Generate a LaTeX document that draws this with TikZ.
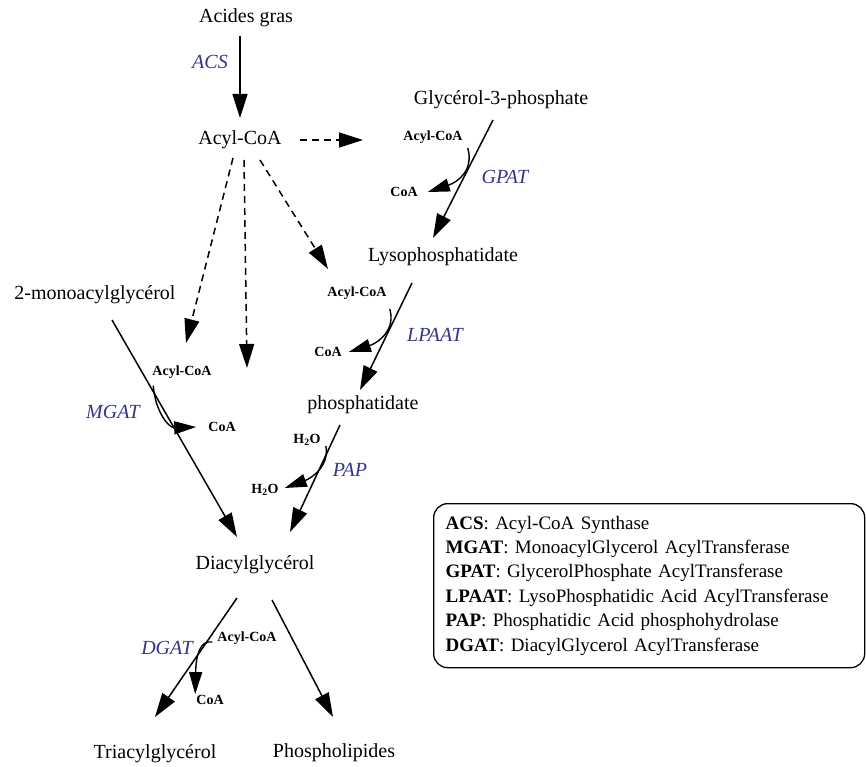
\documentclass[tikz,border=0pt]{standalone}
\usepackage{fontspec}
\setmainfont{Liberation Serif}
\usepackage{tikz}
\usetikzlibrary{arrows.meta, positioning}
\definecolor{enzblue}{RGB}{52,52,140}

\begin{document}
\begin{tikzpicture}[x=1pt, y=-1pt, >={Triangle[length=24pt,width=15pt]},
  metab/.style={font=\fontsize{20}{23}\selectfont, inner sep=2pt},
  enz/.style={font=\fontsize{20}{23}\selectfont\itshape, text=enzblue, inner sep=2pt},
  cof/.style={font=\fontsize{14}{16}\selectfont\bfseries, inner sep=1pt},
  flux/.style={->, line width=1.5pt},
  dflux/.style={->, line width=1.5pt, dash pattern=on 7pt off 5pt},
  side/.style={-{Triangle[length=22pt,width=13pt]}, line width=1.4pt},
  legend/.style={draw, line width=1.3pt, rounded corners=14pt, align=left,
    text width=407pt, minimum height=164pt, inner xsep=12pt,
    font=\fontsize{19}{24.4}\selectfont}]
  \useasboundingbox (0,0) rectangle (866,767);

  % metabolites
  \node[metab] (fa) at (246,18) {Acides gras};
  \node[metab] (acoa) at (240,140) {Acyl-CoA};
  \node[metab] (g3p) at (501,100) {Glycérol-3-phosphate};
  \node[metab] (lpa) at (443,257) {Lysophosphatidate};
  \node[metab] (pa) at (363,405) {phosphatidate};
  \node[metab] (mag) at (95,295) {2-monoacylglycérol};
  \node[metab] (dag) at (255,565) {Diacylglycérol};
  \node[metab] (tag) at (155,754) {Triacylglycérol};
  \node[metab] (pl) at (334,753) {Phospholipides};

  % enzymes
  \node[enz] (acs) at (210,62) {ACS};
  \node[enz] (gpat) at (505,177) {GPAT};
  \node[enz] (lpaat) at (435,335) {LPAAT};
  \node[enz] (pap) at (350,470) {PAP};
  \node[enz] (mgat) at (113,412) {MGAT};
  \node[enz] (dgat) at (167,648) {DGAT};

  % co-substrates
  \node[cof] (gAcoa) at (433,137) {Acyl-CoA};
  \node[cof] (gCoa) at (404,192) {CoA};
  \node[cof] (lAcoa) at (357,293) {Acyl-CoA};
  \node[cof] (lCoa) at (328,352) {CoA};
  \node[cof] (pWatIn) at (307,440) {H\textsubscript{2}O};
  \node[cof] (pWatOut) at (265,490) {H\textsubscript{2}O};
  \node[cof] (mAcoa) at (182,372) {Acyl-CoA};
  \node[cof] (mCoa) at (222,427) {CoA};
  \node[cof] (dAcoa) at (247,638) {Acyl-CoA};
  \node[cof] (dCoa) at (210,700) {CoA};

  % reaction ends
  \coordinate (acsIn) at (240,36);   \coordinate (acsOut) at (240,118);
  \coordinate (gpatIn) at (493,120); \coordinate (gpatOut) at (433,238);
  \coordinate (lpaatIn) at (412,283); \coordinate (lpaatOut) at (360,390);
  \coordinate (papIn) at (340,425);  \coordinate (papOut) at (290,532);
  \coordinate (mgatIn) at (112,320); \coordinate (mgatOut) at (237,537);
  \coordinate (dgatIn) at (237,598); \coordinate (dgatOut) at (155,717);
  \coordinate (plIn) at (272,600);   \coordinate (plOut) at (333,717);

  \draw[flux] (acsIn) -- (acsOut);
  \draw[flux] (gpatIn) -- (gpatOut);
  \draw[flux] (lpaatIn) -- (lpaatOut);
  \draw[flux] (papIn) -- (papOut);
  \draw[flux] (mgatIn) -- (mgatOut);
  \draw[flux] (dgatIn) -- (dgatOut);
  \draw[flux] (plIn) -- (plOut);

  % acyl-CoA supply
  \coordinate (acR) at (300,140);  \coordinate (acRend) at (363,140);
  \coordinate (acL) at (233,158);  \coordinate (acLend) at (186,343);
  \coordinate (acM) at (244,160);  \coordinate (acMend) at (247,368);
  \coordinate (acD) at (260,160);  \coordinate (acDend) at (328,269);
  \draw[dflux] (acR) -- (acRend);
  \draw[dflux] (acL) -- (acLend);
  \draw[dflux] (acM) -- (acMend);
  \draw[dflux] (acD) -- (acDend);

  % side reactions
  \draw[side] ([shift={(4,11)}]gAcoa.east) .. controls (474,170) and (458,182) .. ([xshift=9pt]gCoa.east);
  \draw[side] ([shift={(2,16)}]lAcoa.east) .. controls (396,330) and (378,343) .. ([xshift=6pt]lCoa.east);
  \draw[side] ([shift={(4,6)}]pWatIn.east) .. controls (330,465) and (312,478) .. ([shift={(5,-2)}]pWatOut.east);
  \draw[side] ([shift={(2,6)}]mAcoa.south west) .. controls (155,410) and (168,428) .. ([xshift=-11pt]mCoa.west);
  \draw[side] ([shift={(-4,4)}]dAcoa.west) .. controls (200,640) and (196,655) .. (dCoa.north west);

  % key
  \node[legend, anchor=north west] (key) at (433,503)
    {\textbf{ACS}: Acyl-CoA Synthase\\
     \textbf{MGAT}: MonoacylGlycerol AcylTransferase\\
     \textbf{GPAT}: GlycerolPhosphate AcylTransferase\\
     \textbf{LPAAT}: LysoPhosphatidic Acid AcylTransferase\\
     \textbf{PAP}: Phosphatidic Acid phosphohydrolase\\
     \textbf{DGAT}: DiacylGlycerol AcylTransferase};
\end{tikzpicture}
\end{document}
